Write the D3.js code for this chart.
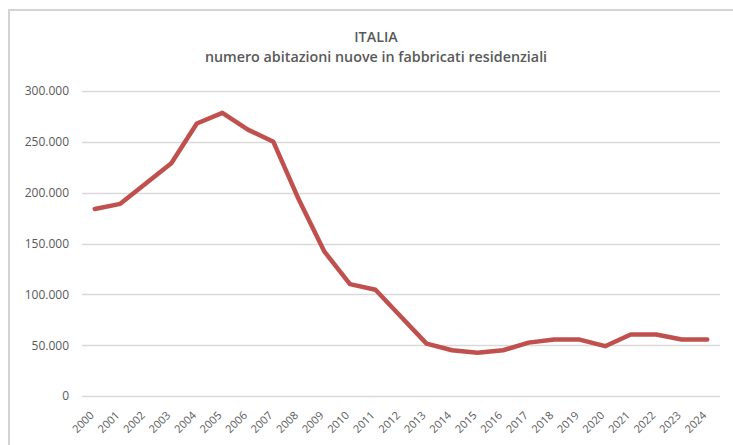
<!DOCTYPE html>
<html>
<head>
<meta charset="utf-8">
<script src="https://cdn.jsdelivr.net/npm/d3@7"></script>
<style>
  body { margin: 0; background: #fff; }
  svg { display: block; }
</style>
</head>
<body>
<div id="chart"></div>
<script>
// dati
const anni = ['2000', '2001', '2002', '2003', '2004', '2005', '2006', '2007', '2008', '2009', '2010', '2011', '2012',
  '2013', '2014', '2015', '2016', '2017', '2018', '2019', '2020', '2021', '2022', '2023', '2024'];
const abitazioni = [184000, 189000, 209000, 229000, 268000, 278500, 262000, 250000, 193000, 142000, 110000, 104500, 78000,
  51500, 45000, 42500, 45000, 52500, 55500, 55500, 49000, 60500, 60500, 55500, 55500];
const yTicks = [0, 50000, 100000, 150000, 200000, 250000, 300000];
const titolo = ['ITALIA', 'numero abitazioni nuove in fabbricati residenziali'];

const w = 733;
const h = 445;
const margin = { top: 91, right: 13, bottom: 49, left: 82 };
const width = w - margin.left - margin.right;
const height = h - margin.top - margin.bottom;
const textColor = '#595959';
const font = 'Open Sans, Noto Sans, sans-serif';

const svg = d3.select('#chart')
  .append('svg')
  .attr('width', w)
  .attr('height', h);

// cornice del grafico
svg.append('path')
  .attr('d', `M9,${h} V10 H${w}`)
  .attr('fill', 'none')
  .attr('stroke', '#d4d4d4')
  .attr('stroke-width', 2);

// titolo
svg.selectAll('.title')
  .data(titolo)
  .enter()
  .append('text')
  .attr('class', 'title')
  .attr('x', 376)
  .attr('y', (d, i) => 42 + i * 20)
  .attr('text-anchor', 'middle')
  .style('font-family', font)
  .style('font-weight', 600)
  .style('font-size', '14.3px')
  .style('fill', textColor)
  .text(d => d);

const g = svg.append('g')
  .attr('transform', `translate(${margin.left},${margin.top})`);

const x = d3.scaleBand()
  .domain(anni)
  .range([0, width]);

const y = d3.scaleLinear()
  .domain([0, 300000])
  .range([height, 0]);

const fmt = d3.formatLocale({ decimal: ',', thousands: '.', grouping: [3], currency: ['€', ''] }).format(',d');

// griglia
g.selectAll('.grid')
  .data(yTicks)
  .enter()
  .append('line')
  .attr('class', 'grid')
  .attr('x1', 0)
  .attr('x2', width)
  .attr('y1', d => Math.round(y(d)) + 0.5)
  .attr('y2', d => Math.round(y(d)) + 0.5)
  .attr('stroke', '#d9d9d9')
  .attr('stroke-width', 1.5);

// asse y
const yAxis = g.append('g')
  .attr('id', 'y-axis')
  .call(d3.axisLeft(y).tickValues(yTicks).tickFormat(fmt).tickSize(0).tickPadding(13));
yAxis.select('.domain').remove();
yAxis.selectAll('text')
  .style('font-family', font)
  .style('font-size', '12px')
  .style('fill', textColor);

// asse x
const xAxis = g.append('g')
  .attr('id', 'x-axis')
  .attr('transform', `translate(0,${height})`)
  .call(d3.axisBottom(x).tickSize(0).tickPadding(0));
xAxis.select('.domain').remove();
xAxis.selectAll('text')
  .attr('dy', null)
  .attr('y', 0)
  .attr('text-anchor', 'end')
  .attr('transform', 'translate(0,20) rotate(-45)')
  .style('font-family', font)
  .style('font-size', '11px')
  .style('fill', textColor);

// linea
const line = d3.line()
  .x((d, i) => x(anni[i]) + x.bandwidth() / 2)
  .y(d => y(d));

g.append('path')
  .datum(abitazioni)
  .attr('fill', 'none')
  .attr('stroke', '#c0504d')
  .attr('stroke-width', 4.5)
  .attr('stroke-linejoin', 'round')
  .attr('stroke-linecap', 'round')
  .attr('d', line);
</script>
</body>
</html>
